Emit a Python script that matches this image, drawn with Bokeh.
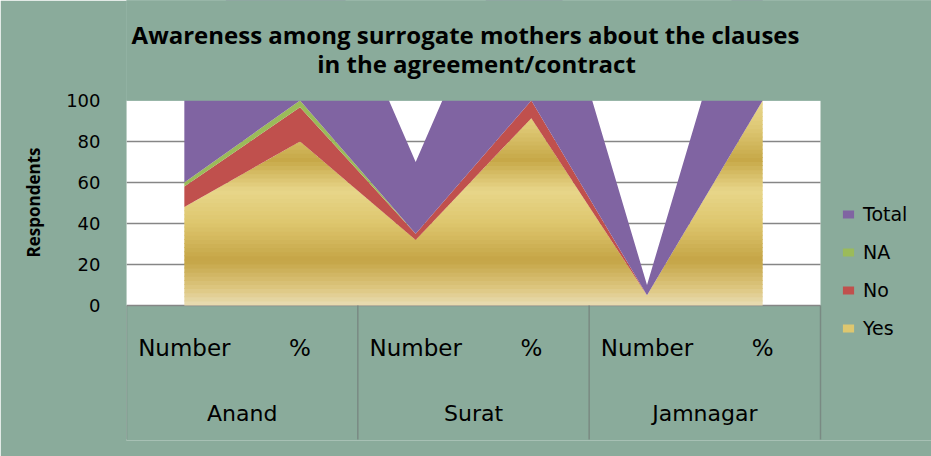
import numpy as np
from bokeh.plotting import figure
from bokeh.models import (Range1d, FixedTicker, Legend, LegendItem, Title,
                          ColumnDataSource)
from bokeh.transform import stack
from bokeh.core.properties import value
from bokeh.embed import file_html
from bokeh.resources import INLINE

# ---------------- data ----------------
cities = ["Anand", "Surat", "Jamnagar"]
measures = ["Number", "%"]
yes = [48, 80, 32, 91.4, 5, 100]
no = [10, 16.7, 3, 8.6, 0, 0]
na = [2, 3.3, 0, 0, 0, 0]
total = [60, 100, 35, 100, 5, 100]
y_ticks = [0, 20, 40, 60, 80, 100]
title_lines = ["Awareness among surrogate mothers about the clauses",
               "in the agreement/contract"]
y_label = "Respondents"

n = len(cities) * len(measures)
cx = np.arange(n) + 0.5                       # category centres (one unit each)
sub_labels = [m for c in cities for m in measures]
grp_x = np.arange(len(cities)) * len(measures) + len(measures) / 2
src = ColumnDataSource(dict(x=cx, yes=yes, no=no, na=na, total=total))

# ---------------- style ----------------
BG = "#8aab9b"
PURPLE = "#8064a2"
RED = "#c0504d"
GREEN = "#9bbb59"
GRID = "#868686"
W, H = 931, 456
LEFT, BOTTOM = 126, 16
unit_px = 694 / n
px_per_y = 2.05
y_max = max(y_ticks)
y_min = y_max - (440 - 100) / px_per_y
y_top = y_max + 100 / px_per_y
x_end = (W - LEFT) / unit_px

p = figure(x_range=Range1d(0, x_end), y_range=Range1d(y_min, y_top),
           width=W, height=H,
           min_border_left=LEFT, min_border_right=0,
           min_border_top=0, min_border_bottom=BOTTOM,
           output_backend="svg", toolbar_location=None,
           x_axis_location=None, title=None,
           background_fill_color=BG, border_fill_color=BG,
           outline_line_color=None)
p.xgrid.visible = False
p.ygrid.visible = False

# y axis
p.yaxis.ticker = FixedTicker(ticks=y_ticks)
p.yaxis.axis_line_color = None
p.yaxis.major_tick_line_color = None
p.yaxis.minor_tick_line_color = None
p.yaxis.major_tick_out = 0
p.yaxis.major_tick_in = 0
p.yaxis.major_label_standoff = 26
p.yaxis.major_label_text_font = "DejaVu Sans"
p.yaxis.major_label_text_font_size = "18px"
p.yaxis.major_label_text_color = "black"

# white plotting area and grid lines
p.quad(left=[0], right=[n], bottom=[0], top=[y_max],
       fill_color="white", line_color=None)
p.segment(x0=[0] * (len(y_ticks) - 1), x1=[n] * (len(y_ticks) - 1),
          y0=y_ticks[:-1], y1=y_ticks[:-1], line_color=GRID, line_width=1.3)

# ---- "Yes" area with gold gradient: horizontal colour bands clipped to the series.
# Breakpoints where the series' straight segments cross the band edges are added so
# that the bands follow exactly the same outline as the series.
stops_v = [0, 8, 22, 40, 56, 71, 88, 100]
stops_c = [(233, 221, 181), (222, 200, 130), (197, 165, 70), (222, 198, 110),
           (232, 214, 138), (199, 168, 72), (224, 202, 120), (232, 214, 140)]
edges = np.arange(0, 101, 2.0)
overlap = 0.5
yes_arr = np.array(yes, dtype=float)
xs = list(cx)
for i in range(n - 1):
    a, b = yes_arr[i], yes_arr[i + 1]
    if a == b:
        continue
    for e in np.concatenate([edges, edges + overlap]):
        if min(a, b) < e < max(a, b):
            xs.append(cx[i] + (e - a) / (b - a))
xs = np.array(sorted(xs))
yes_xs = np.interp(xs, cx, yes_arr)
band_renderers = []
for e0, e1 in zip(edges[:-1], edges[1:]):
    mid = (e0 + e1) / 2
    rgb = [int(np.interp(mid, stops_v, [c[i] for c in stops_c])) for i in range(3)]
    col = "#%02x%02x%02x" % tuple(rgb)
    r = p.varea(x=xs, y1=np.minimum(yes_xs, e0),
                y2=np.minimum(yes_xs, e1 + overlap), fill_color=col)
    band_renderers.append(r)

# ---- stacked No / NA / Total ----
r_no = p.varea(x="x", y1=stack("yes"), y2=stack("yes", "no"), source=src,
               fill_color=RED)
r_na = p.varea(x="x", y1=stack("yes", "no"), y2=stack("yes", "no", "na"),
               source=src, fill_color=GREEN)
r_total = p.varea(x="x", y1=stack("yes", "no", "na"),
                  y2=stack("yes", "no", "na", "total"), source=src,
                  fill_color=PURPLE)

# the value axis stops at 100: hide what is stacked above it (twice, so no
# anti-aliased fringe survives at the canvas edge)
for _ in range(2):
    p.quad(left=[-1], right=[x_end + 1], bottom=[y_max], top=[y_top + 50],
           fill_color=BG, line_color=None)

# ---- title (two centred lines above the plotting area) ----
p.text(x=[n / 2, n / 2], y=[y_max + 66 / px_per_y, y_max + 37 / px_per_y],
       x_offset=[-8, 3], text=title_lines,
       text_font=value("Open Sans"), text_font_style="bold",
       text_font_size="24px", text_align="center", text_baseline="alphabetic",
       text_color="black")

# ---- category labels (two rows) and separators ----
sub_y = -20.5
grp_y = -52.7
p.text(x=cx, y=[sub_y] * n, text=sub_labels,
       text_font=value("DejaVu Sans"), text_font_size="23px",
       text_align="center", text_baseline="middle", text_color="black")
p.text(x=grp_x, y=[grp_y] * len(cities), text=cities,
       text_font=value("DejaVu Sans"), text_font_size="22px",
       text_align="center", text_baseline="middle", text_color="black")
sep_x = [i * len(measures) for i in range(len(cities) + 1)]
p.segment(x0=sep_x, x1=sep_x, y0=[0] * len(sep_x), y1=[y_min + 0.5] * len(sep_x),
          line_color="#7a8a83", line_width=1.5)

# ---- y axis title ----
p.add_layout(Title(text=y_label, align="left", offset=183,
                   text_font="Open Sans", text_font_style="bold",
                   text_font_size="17px", text_color="black", standoff=38),
             "left")

# ---- legend ----
mid_band = band_renderers[len(band_renderers) * 2 // 5]
legend = Legend(items=[LegendItem(label="Total", renderers=[r_total]),
                       LegendItem(label="NA", renderers=[r_na]),
                       LegendItem(label="No", renderers=[r_no]),
                       LegendItem(label="Yes", renderers=[mid_band])],
                location=(715, 101), border_line_color=None,
                background_fill_alpha=0, label_text_font="DejaVu Sans",
                label_text_font_size="19px", label_text_color="black",
                glyph_width=14, glyph_height=10, label_standoff=8,
                label_height=20, spacing=16, padding=10, margin=0)
p.add_layout(legend)

open("out.html", "w").write(file_html(p, INLINE))
